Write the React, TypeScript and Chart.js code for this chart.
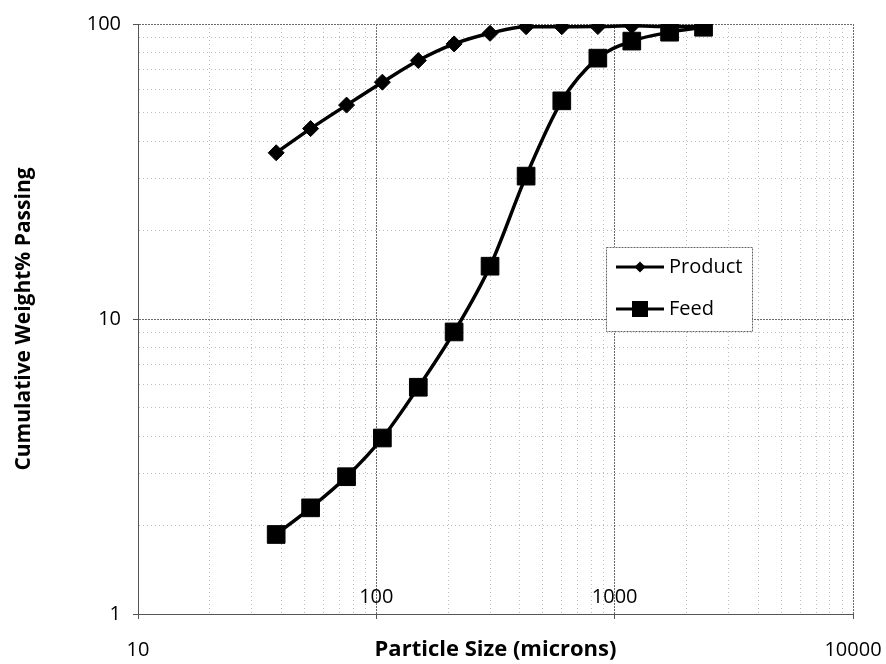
import React, { useEffect, useRef } from 'react';
import { Chart, registerables } from 'chart.js';

Chart.register(...registerables);

// ---- data ----
const sizes = [38, 53, 75, 106, 150, 212, 300, 425, 600, 850, 1180, 1700, 2360];
const productPassing = [36.6, 44.2, 53.1, 63.5, 75.2, 85.6, 93.0, 97.9, 97.9, 98.0, 98.7, 98.0, 98.0];
const feedPassing = [1.86, 2.29, 2.92, 3.95, 5.87, 9.04, 15.1, 30.5, 54.9, 76.6, 87.5, 93.8, 97.5];
const seriesNames = ['Product', 'Feed'];
const xTickLabels = ['10', '100', '1000', '10000'];
const yTickLabels = ['1', '10', '100'];
const xTitle = 'Particle Size (microns)';
const yTitle = 'Cumulative Weight% Passing';

const FONT = "'Open Sans', 'DejaVu Sans', sans-serif";

function logTicks(scale: any) {
  const ticks: any[] = [];
  const lo = Math.round(Math.log10(scale.min));
  const hi = Math.round(Math.log10(scale.max));
  for (let e = lo; e <= hi; e++) {
    for (let k = 1; k <= 9; k++) {
      const v = k * Math.pow(10, e);
      if (v > scale.max * 1.0001) break;
      ticks.push({ value: v, major: k === 1 });
    }
  }
  scale.ticks = ticks;
}

const customDraw = {
  id: 'customDraw',
  afterDraw(chart: any) {
    const { ctx, chartArea } = chart;
    const xs = chart.scales.x;
    ctx.save();
    // x tick labels
    ctx.fillStyle = '#000';
    ctx.font = `20px ${FONT}`;
    ctx.textAlign = 'center';
    ctx.textBaseline = 'middle';
    xTickLabels.forEach((lab) => {
      const v = Number(lab);
      const px = xs.getPixelForValue(v);
      const inside = v > xs.min && v < xs.max;
      const py = inside ? chartArea.bottom - 17 : chartArea.bottom + 36;
      ctx.fillText(lab, px, py);
    });

    // legend
    const bx = chartArea.left + 468;
    const by = chartArea.top + 223;
    const bw = 146;
    const bh = 84;
    ctx.fillStyle = '#fff';
    ctx.fillRect(bx, by, bw, bh);
    ctx.strokeStyle = '#666';
    ctx.lineWidth = 1;
    ctx.setLineDash([2, 1]);
    ctx.strokeRect(bx + 0.5, by + 0.5, bw, bh);
    ctx.setLineDash([]);
    const styles = ['rectRot', 'rect'];
    seriesNames.forEach((name, i) => {
      const cy = by + 20 + i * 42;
      const x0 = bx + 10;
      const x1 = bx + 58;
      const cx = (x0 + x1) / 2;
      ctx.strokeStyle = '#000';
      ctx.lineWidth = 3;
      ctx.beginPath();
      ctx.moveTo(x0, cy);
      ctx.lineTo(x1, cy);
      ctx.stroke();
      ctx.fillStyle = '#000';
      ctx.beginPath();
      if (styles[i] === 'rectRot') {
        const r = 5.5;
        ctx.moveTo(cx - r, cy);
        ctx.lineTo(cx, cy - r);
        ctx.lineTo(cx + r, cy);
        ctx.lineTo(cx, cy + r);
        ctx.closePath();
      } else {
        const h = 8;
        ctx.rect(cx - h, cy - h, 2 * h, 2 * h);
      }
      ctx.fill();
      ctx.font = `20px ${FONT}`;
      ctx.textAlign = 'left';
      ctx.textBaseline = 'middle';
      ctx.fillText(name, x1 + 5, cy);
    });
    ctx.restore();
  },
};

export default function App() {
  const ref = useRef<HTMLCanvasElement | null>(null);

  useEffect(() => {
    if (!ref.current) return;
    const gridColor = (c: any) => (c.tick && c.tick.major ? '#6a6a6a' : '#bdbdbd');
    const gridDash = (c: any) => (c.tick && c.tick.major ? [2, 1] : [1, 3]);
    const tickColor = (c: any) => (c.tick && c.tick.major ? '#555' : 'rgba(0,0,0,0)');

    const chart = new Chart(ref.current, {
      type: 'line',
      data: {
        datasets: [
          {
            label: seriesNames[0],
            data: sizes.map((s, i) => ({ x: s, y: productPassing[i] })),
            borderColor: '#000',
            backgroundColor: '#000',
            borderWidth: 3.5,
            pointStyle: 'rectRot',
            pointRadius: 8,
            pointBorderWidth: 1,
            pointBackgroundColor: '#000',
            pointBorderColor: '#000',
            cubicInterpolationMode: 'monotone',
          },
          {
            label: seriesNames[1],
            data: sizes.map((s, i) => ({ x: s, y: feedPassing[i] })),
            borderColor: '#000',
            backgroundColor: '#000',
            borderWidth: 3.5,
            pointStyle: 'rect',
            pointRadius: 12.5,
            pointBorderWidth: 1,
            pointBackgroundColor: '#000',
            pointBorderColor: '#000',
            cubicInterpolationMode: 'monotone',
          },
        ],
      },
      options: {
        animation: false,
        responsive: false,
        devicePixelRatio: 1,
        layout: { padding: { left: 0, right: 33, top: 20, bottom: 0 } },
        plugins: {
          legend: { display: false },
          tooltip: { enabled: false },
        },
        scales: {
          x: {
            type: 'logarithmic',
            min: 10,
            max: 10000,
            afterBuildTicks: logTicks,
            afterFit: (s: any) => {
              s.height = 50;
            },
            ticks: { display: false },
            grid: { color: gridColor, lineWidth: 1, tickLength: 5, tickColor },
            border: { display: true, color: '#555', dash: gridDash },
            title: {
              display: true,
              text: xTitle,
              color: '#000',
              font: { family: FONT, size: 22, weight: 'bold', lineHeight: 1.2 },
              padding: { top: 0, bottom: 1 },
            },
          },
          y: {
            type: 'logarithmic',
            min: 1,
            max: 100,
            afterBuildTicks: logTicks,
            afterFit: (s: any) => {
              s.width = 138;
            },
            ticks: {
              color: '#000',
              font: { family: FONT, size: 20 },
              padding: 12,
              autoSkip: false,
              maxRotation: 0,
              callback: (v: any) => {
                const s = String(Number(v));
                return yTickLabels.includes(s) ? s : '';
              },
            },
            grid: { color: gridColor, lineWidth: 1, tickLength: 5, tickColor },
            border: { display: true, color: '#555', dash: gridDash },
            title: {
              display: true,
              text: yTitle,
              color: '#000',
              font: { family: FONT, size: 21, weight: 'bold', lineHeight: 1.2 },
              padding: { top: 11, bottom: 0 },
            },
          },
        },
      },
      plugins: [customDraw],
    } as any);
    return () => chart.destroy();
  }, []);

  return (
    <div style={{ position: 'absolute', left: 0, top: 0, width: 886, height: 664, background: '#fff' }}>
      <canvas ref={ref} width={886} height={664} style={{ display: 'block' }} />
    </div>
  );
}
